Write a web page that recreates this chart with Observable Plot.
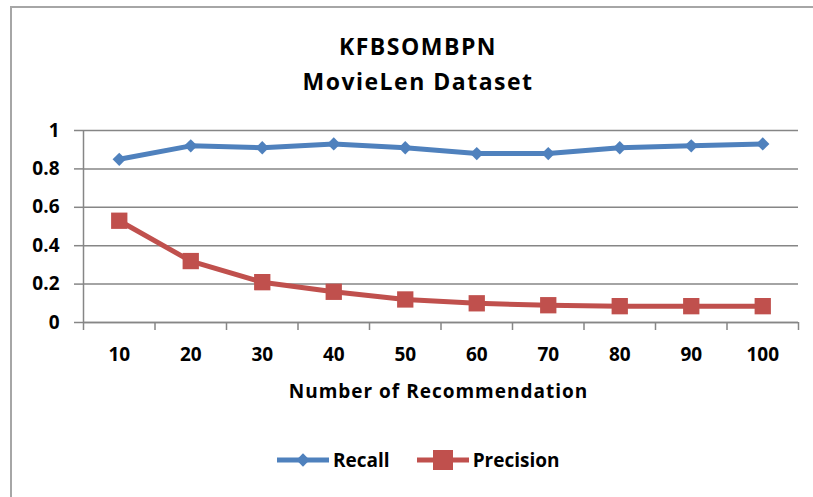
<!DOCTYPE html>
<html>
<head>
<meta charset="utf-8">
<script src="https://cdn.jsdelivr.net/npm/d3@7"></script>
<script src="https://cdn.jsdelivr.net/npm/@observablehq/plot@0.6"></script>
<style>
  html, body { margin: 0; padding: 0; background: #fff; }
  #wrap { position: relative; width: 813px; height: 497px; overflow: hidden; font-family: "Open Sans", Lato, sans-serif; font-weight: bold; color: #000; }
  #frame { position: absolute; left: 10px; top: 6px; width: 820px; height: 520px; border-left: 2px solid #a6a6a6; border-top: 2px solid #a6a6a6; box-sizing: border-box; }
  .title { position: absolute; left: 0; width: 836px; text-align: center; font-size: 23px; letter-spacing: 1.5px; line-height: 30px; white-space: nowrap; }
  #xlabel { position: absolute; left: 0; width: 877px; text-align: center; top: 378px; font-size: 19px; letter-spacing: 1px; line-height: 26px; white-space: nowrap; }
  #legend { position: absolute; top: 446px; left: 276px; font-size: 19px; line-height: 28px; white-space: nowrap; }
  #plot { position: absolute; left: 0; top: 0; }
</style>
</head>
<body>
<div id="wrap">
  <div id="frame"></div>
  <div class="title" style="top:31px">KFBSOMBPN</div>
  <div class="title" style="top:66px">MovieLen Dataset</div>
  <div id="plot"></div>
  <div id="xlabel">Number of Recommendation</div>
  <div id="legend"></div>
</div>
<script>
const categories = [10, 20, 30, 40, 50, 60, 70, 80, 90, 100];
const recall =    [0.85, 0.92, 0.91, 0.93, 0.91, 0.88, 0.88, 0.91, 0.92, 0.93];
const precision = [0.53, 0.32, 0.21, 0.16, 0.12, 0.10, 0.09, 0.085, 0.085, 0.085];
const yTicks = [0, 0.2, 0.4, 0.6, 0.8, 1];
const seriesNames = ["Recall", "Precision"];
const colors = {Recall: "#4F81BD", Precision: "#C0504D"};

const rows = [];
categories.forEach((c, i) => {
  rows.push({n: c, v: recall[i], s: "Recall"});
  rows.push({n: c, v: precision[i], s: "Precision"});
});
const step = categories[1] - categories[0];
const boundaries = [...categories.map(c => c - step / 2), categories[categories.length - 1] + step / 2];
const font = "'Open Sans', Lato, sans-serif";

const chart = Plot.plot({
  width: 813,
  height: 497,
  marginLeft: 83,
  marginRight: 15,
  marginTop: 130,
  marginBottom: 175,
  style: {background: "transparent", fontFamily: font, fontWeight: "bold", fontSize: "19px", color: "#000"},
  x: {domain: [boundaries[0], boundaries[boundaries.length - 1]]},
  y: {domain: [0, 1]},
  marks: [
    Plot.gridY(yTicks, {stroke: "#868686", strokeOpacity: 1, strokeWidth: 1.5}),
    Plot.axisY(yTicks, {tickSize: 9, tickPadding: 15, stroke: "#868686", strokeWidth: 1.5, tickFormat: d => String(d), label: null, fontSize: 19, fill: "#000"}),
    Plot.axisX(boundaries, {tickSize: 8, tickFormat: () => "", stroke: "#868686", strokeWidth: 1.5, label: null}),
    Plot.axisX(categories, {tickSize: 0, tickPadding: 25, tickFormat: d => String(d), label: null, fontSize: 19, fill: "#000"}),
    Plot.ruleX([boundaries[0]], {y1: 0, y2: 1, stroke: "#868686", strokeWidth: 1.5}),
    Plot.ruleY([0], {stroke: "#868686", strokeWidth: 1.5}),
    Plot.line(rows, {x: "n", y: "v", z: "s", stroke: d => colors[d.s], strokeWidth: 5}),
    Plot.dot(rows.filter(d => d.s === "Recall"), {x: "n", y: "v", symbol: "diamond2", r: 6, fill: colors.Recall, stroke: "none"}),
    Plot.dot(rows.filter(d => d.s === "Precision"), {x: "n", y: "v", symbol: "square", r: 9.2, fill: colors.Precision, stroke: "none"})
  ]
});
document.getElementById("plot").appendChild(chart);

// legend
const leg = d3.select("#legend");
seriesNames.forEach((name, i) => {
  const item = leg.append("span").style("display", "inline-flex").style("align-items", "center").style("margin-right", i === 0 ? "26px" : "0");
  const svg = item.append("svg").attr("width", 54).attr("height", 24).style("margin-right", "3px");
  svg.append("line").attr("x1", 1).attr("x2", 53).attr("y1", 12).attr("y2", 12).attr("stroke", colors[name]).attr("stroke-width", 5);
  if (name === "Recall") {
    svg.append("path").attr("d", d3.symbol(d3.symbolDiamond2, 6 * 6 * Math.PI)()).attr("transform", "translate(27,12)").attr("fill", colors[name]);
  } else {
    svg.append("rect").attr("x", 17).attr("y", 2).attr("width", 20).attr("height", 20).attr("fill", colors[name]);
  }
  item.append("span").text(name);
});
</script>
</body>
</html>
